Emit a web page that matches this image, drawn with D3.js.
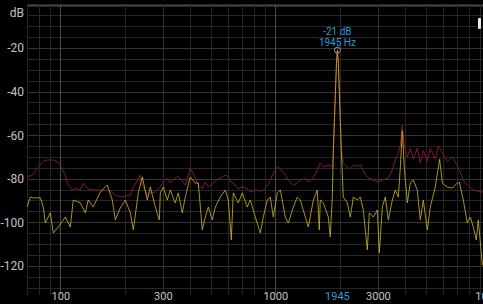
<!DOCTYPE html>
<html>
<head>
<meta charset="utf-8">
<script src="https://cdn.jsdelivr.net/npm/d3@7"></script>
<style>
  html, body { margin: 0; padding: 0; background: #000; overflow: hidden; }
  svg { display: block; background: #000; }
  text { font-family: Roboto, "Noto Sans", sans-serif; }
</style>
</head>
<body>
<svg width="483" height="304"></svg>
<script>
// peak-hold trace (dark red)
const holdFreq = [70.2, 74.9, 78.2, 83.3, 87, 92.8, 97.9, 100, 105.5, 107.8, 111.3, 113.7, 117.4, 123.9, 127.9, 134.9,
  142.3, 153.5, 170.8, 180.3, 190.1, 200.6, 211.7, 218.6, 235.5, 240.6, 253.8, 262.2, 276.6, 291.9, 301.4, 314.6,
  324.8, 342.6, 353.8, 369.3, 381.4, 402.3, 424.5, 438.4, 457.5, 472.5, 488, 509.3, 525.9, 554.8, 585.4, 604.5,
  624.2, 637.7, 672.8, 702.3, 741, 765.1, 807.2, 851.8, 879.6, 917.9, 947.8, 978.8, 1000, 1021.7, 1055, 1113,
  1150, 1213, 1266, 1307, 1379, 1424, 1503, 1568, 1619, 1672, 1764, 1841, 1862, 1925, 1945, 1965, 2028, 2071,
  2162, 2233, 2307, 2407, 2485, 2567, 2679, 2857, 2982, 3146, 3355, 3502, 3616, 3734, 3814, 3897, 3981, 4111,
  4246, 4385, 4575, 4725, 4879, 5093, 5260, 5547, 5731, 5982, 6310, 6656, 7022, 7174, 7489, 7816, 8072, 8337,
  8608, 9182, 9582];
const holdDb = [-79.2, -78, -75, -72, -71.4, -71.4, -72.5, -74, -78.5, -82, -83.8, -85.2, -84.4, -85.2, -82, -84.7,
  -85.2, -85.2, -85.6, -87.5, -88.4, -88, -87.5, -84, -78.3, -83, -87.5, -86.5, -86.1, -83.8, -81.5, -79.7,
  -82, -79.7, -78.8, -81.1, -83, -75.1, -79.5, -82.9, -84.5, -81.5, -83.8, -82.5, -81, -79.7, -78.3, -79,
  -81.5, -82, -84.7, -83.8, -84.7, -86.1, -85.2, -85.6, -85.2, -83.4, -80.6, -77.4, -76, -74.6, -75.5, -78.3,
  -80.6, -83, -82, -80.6, -80, -81.5, -79.7, -76, -72.8, -74.6, -73.7, -74.6, -67, -27, -21, -27, -67, -72.8,
  -74.6, -75.5, -73.7, -74.2, -73.7, -76.5, -79.2, -80.6, -81.5, -80.6, -79.7, -76, -71.4, -68, -65, -55.3, -65, -70,
  -66, -71, -65.9, -73, -67, -72, -66, -71, -65, -68, -72, -70, -74, -76, -80.6, -82.9, -84, -85.2,
  -85.6, -86.1, -86];

// live spectrum trace (yellow)
const liveFreq = [70.2, 72.5, 74.9, 80.7, 83.3, 85.2, 89.8, 92.8, 97.9, 105.5, 111.3, 114.9, 123.9, 130.7, 134.9, 142.3,
  153.5, 165.4, 174.5, 180.3, 190.1, 200.6, 211.7, 218.6, 230.6, 240.6, 253.8, 262.2, 276.6, 288.8, 291.9, 301.4,
  314.6, 324.8, 342.6, 353.8, 369.3, 381.4, 402.3, 424.5, 438.4, 457.5, 472.5, 488, 509.3, 525.9, 554.8, 585.4,
  604.5, 624.2, 637.7, 672.8, 702.3, 741, 765.1, 807.2, 851.8, 879.6, 917.9, 947.8, 978.8, 1021.7, 1055, 1113,
  1150, 1213, 1266, 1307, 1379, 1424, 1503, 1568, 1602, 1619, 1672, 1764, 1802, 1841, 1862, 1925, 1945, 1965,
  2028, 2071, 2162, 2233, 2307, 2407, 2485, 2567, 2679, 2737, 2857, 2982, 3047, 3146, 3249, 3355, 3502, 3616,
  3734, 3814, 3897, 3981, 4111, 4246, 4385, 4575, 4725, 4879, 5093, 5260, 5547, 5814, 5982, 6310, 6656, 7022,
  7174, 7489, 7816, 8072, 8337, 8608, 8795, 9182, 9582];
const liveDb = [-93, -88.4, -88.8, -88.8, -93, -100.3, -95.7, -104.9, -102.2, -97.6, -102.2, -89.8, -91.1, -95.7, -89.8, -93,
  -86.1, -82.9, -89.8, -98.9, -93.4, -89.8, -95.7, -103.5, -86.5, -79.2, -89.8, -83.8, -93, -98.9, -86.5, -83.8,
  -89.8, -85.2, -91.1, -86.5, -95.7, -88.4, -79.2, -82, -82, -103.5, -97.6, -93, -98.9, -93, -88.4, -85.2,
  -89.8, -108.1, -86.5, -91.1, -86.5, -93, -89.8, -97.6, -104.9, -97.6, -89.8, -88.4, -97.6, -86.5, -85.2, -97.6,
  -100.3, -93, -88.4, -89.8, -97.6, -102.2, -89.8, -85.2, -103.5, -89.8, -91.1, -97.6, -106.7, -88.4, -67, -27, -21, -27,
  -67, -88.4, -91.1, -97.6, -88.4, -89.8, -88.4, -94.4, -112.7, -95.7, -97.6, -94.4, -114.1, -93, -88.4, -98.9, -89.8, -85.2,
  -88.4, -75, -58, -75, -91.1, -82, -80.6, -85.2, -98.9, -89.8, -103.5, -93, -83.8, -71, -82, -83.8, -84.3, -82,
  -81.5, -89.8, -100.3, -97.6, -102.2, -108.1, -98.9, -119.6, -120];

const xTicks = [100, 300, 1000, 3000, 10000];
const xTickLabels = ['100', '300', '1000', '3000', '10000'];
const xMinor = [70, 80, 90, 200, 400, 500, 600, 700, 800, 900, 2000, 4000, 5000, 6000, 7000, 8000, 9000];
const yTicks = [-20, -40, -60, -80, -100, -120];
const yGrid = d3.range(0, -131, -5);

const peakFreq = 1945;
const peakDb = -21;

const svg = d3.select('svg');
const width = +svg.attr('width');
const height = +svg.attr('height');

const plotLeft = 27;
const plotTop = 4.5;
const plotBottom = 287.6;

const x = d3.scaleLog().domain([70, 10000]).range([plotLeft, 490.3]);
const y = d3.scaleLinear().domain([-130, 0]).range([plotBottom, plotTop]);

const grid = svg.append('g');

grid.selectAll('.hgrid')
  .data(yGrid)
  .enter()
  .append('line')
  .attr('x1', plotLeft)
  .attr('x2', width)
  .attr('y1', d => Math.round(y(d)) + 0.5)
  .attr('y2', d => Math.round(y(d)) + 0.5)
  .attr('stroke', d => d === 0 ? '#4a4a4a' : (d % 20 === 0 ? '#363636' : '#262626'))
  .attr('stroke-width', d => d === 0 ? 2 : 1);

grid.selectAll('.vminor')
  .data(xMinor)
  .enter()
  .append('line')
  .attr('x1', d => Math.round(x(d)) + 0.5)
  .attr('x2', d => Math.round(x(d)) + 0.5)
  .attr('y1', plotTop)
  .attr('y2', 295)
  .attr('stroke', '#262626');

grid.selectAll('.vmajor')
  .data(xTicks)
  .enter()
  .append('line')
  .attr('x1', d => Math.round(x(d)) + 0.5)
  .attr('x2', d => Math.round(x(d)) + 0.5)
  .attr('y1', plotTop)
  .attr('y2', 295)
  .attr('stroke', d => (d === 100 || d === 1000 || d === 10000) ? '#4a4a4a' : '#2e2e2e');

const line = d3.line()
  .x(d => x(d[0]))
  .y(d => y(d[1]));

svg.append('path')
  .datum(holdFreq.map((f, i) => [f, holdDb[i]]))
  .attr('d', line)
  .attr('fill', 'none')
  .attr('stroke', '#7e1a36')
  .attr('stroke-width', 1);

svg.append('path')
  .datum(liveFreq.map((f, i) => [f, liveDb[i]]))
  .attr('d', line)
  .attr('fill', 'none')
  .attr('stroke', '#cdb52a')
  .attr('stroke-opacity', 0.9)
  .attr('stroke-width', 0.9)
  .attr('stroke-linejoin', 'round');

// axes (labels only)
const yAxis = d3.axisLeft(y).tickValues(yTicks).tickSize(0).tickPadding(0).tickFormat(d => d);
const yag = svg.append('g')
  .attr('transform', 'translate(24,0)')
  .call(yAxis);
yag.select('.domain').remove();
yag.selectAll('text')
  .attr('fill', '#c4c4c4')
  .style('font-size', '12px');

svg.append('text')
  .attr('x', 24)
  .attr('y', 17)
  .attr('text-anchor', 'end')
  .attr('fill', '#c4c4c4')
  .style('font-size', '12px')
  .text('dB');

const xAxis = d3.axisBottom(x).tickValues(xTicks).tickSize(0).tickPadding(0)
  .tickFormat((d, i) => xTickLabels[i]);
const xag = svg.append('g')
  .attr('transform', 'translate(0,300)')
  .call(xAxis);
xag.select('.domain').remove();
xag.selectAll('text')
  .attr('fill', '#c4c4c4')
  .attr('dy', 0)
  .style('font-size', '11px');

// peak marker
svg.append('circle')
  .attr('cx', x(peakFreq))
  .attr('cy', y(peakDb))
  .attr('r', 3)
  .attr('fill', 'none')
  .attr('stroke', '#9a9a9a')
  .attr('stroke-width', 1);

svg.append('text')
  .attr('x', x(peakFreq))
  .attr('y', 35)
  .attr('text-anchor', 'middle')
  .attr('fill', '#2f9ad8')
  .style('font-size', '10px')
  .text(peakDb + ' dB');

svg.append('text')
  .attr('x', x(peakFreq))
  .attr('y', 45.5)
  .attr('text-anchor', 'middle')
  .attr('fill', '#2f9ad8')
  .style('font-size', '10px')
  .text(peakFreq + ' Hz');

svg.append('text')
  .attr('x', x(peakFreq))
  .attr('y', 300)
  .attr('text-anchor', 'middle')
  .attr('fill', '#2f9ad8')
  .style('font-size', '11px')
  .text(peakFreq);

// scroll indicator at top right
svg.append('rect')
  .attr('x', 478)
  .attr('y', 18)
  .attr('width', 3)
  .attr('height', 11)
  .attr('rx', 1)
  .attr('fill', '#e8e8e8');
</script>
</body>
</html>
